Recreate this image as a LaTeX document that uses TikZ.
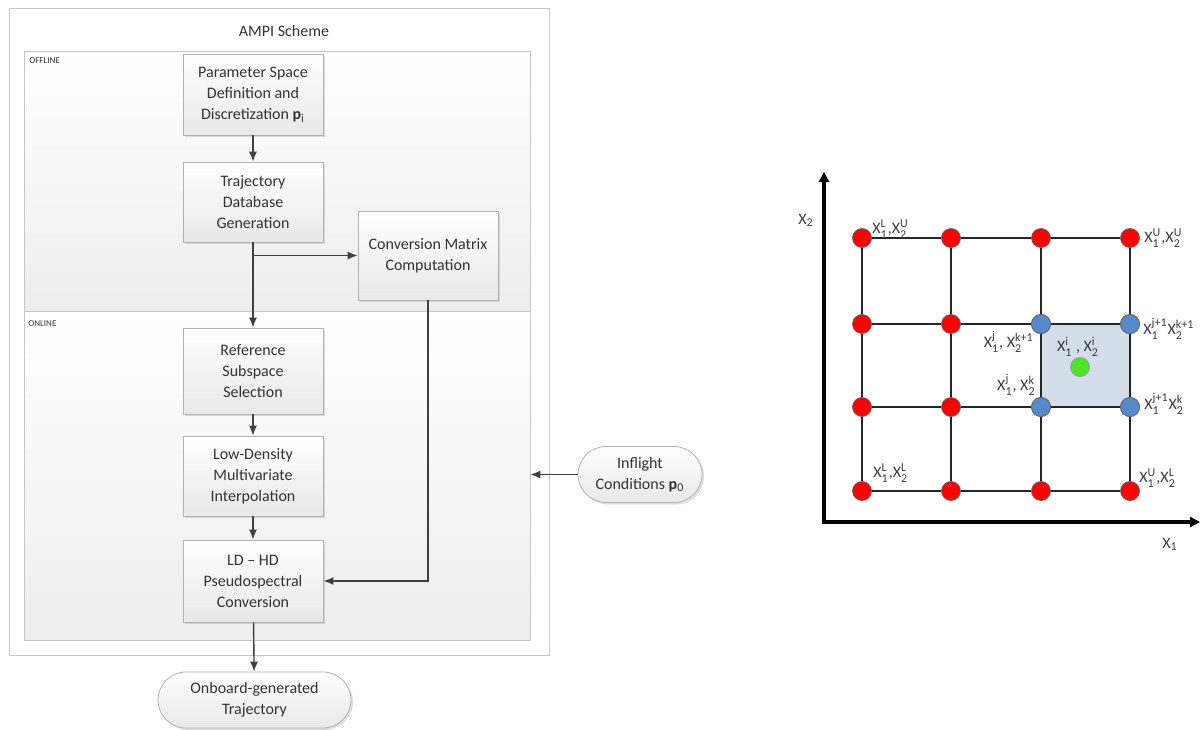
\documentclass[tikz,border=0pt]{standalone}
\usepackage{amsmath}
\usepackage{fontspec}
\setmainfont{Carlito}
\usetikzlibrary{arrows.meta,shadows}

\definecolor{dotred}{RGB}{255,0,0}
\definecolor{dotblue}{RGB}{85,138,205}
\definecolor{dotgreen}{RGB}{80,230,40}
\definecolor{cellfill}{RGB}{212,222,234}
\definecolor{labgray}{RGB}{60,60,60}

\newcommand{\xpt}[2]{X$_{\text{#1}}^{\text{#2}}$}

\begin{document}
\begin{tikzpicture}[x=0.5pt,y=-0.5pt,
  procbox/.style={draw=gray!60, rectangle, align=center, font=\fontsize{8}{10.5}\selectfont, text=black!80, minimum width=70pt, top color=white, bottom color=gray!18, drop shadow={shadow xshift=1pt, shadow yshift=-1pt, opacity=0.25}, inner sep=2pt},
  termbox/.style={draw=gray!60, rectangle, rounded corners=14pt, align=center, font=\fontsize{8}{10.5}\selectfont, text=black!80, minimum height=28pt, top color=white, bottom color=gray!18, drop shadow={shadow xshift=1pt, shadow yshift=-1pt, opacity=0.25}},
  panel/.style={draw=gray!45, rectangle, top color=white, bottom color=gray!14, drop shadow={shadow xshift=0.7pt, shadow yshift=-0.7pt, opacity=0.2}},
  tag/.style={font=\fontsize{4.5}{5}\selectfont, text=black!80, inner sep=0pt, anchor=west},
  arrow/.style={-{Latex[length=5pt,width=4pt]}, draw=black!75, line width=0.7pt},
  axis/.style={-{Triangle[length=5pt,width=5pt]}, line width=2pt},
  gridline/.style={draw=black!85, line width=1pt},
  dot/.style={circle, draw=black!60, line width=0.4pt, minimum size=9.5pt, inner sep=0pt},
  ptlabel/.style={font=\fontsize{8}{9}\selectfont, text=labgray, inner sep=0pt}
]
\useasboundingbox (0,0) rectangle (1200,729);

% left: AMPI scheme
\node[draw=gray!45, fill=white, rectangle, minimum width=270pt, minimum height=323.5pt, drop shadow={shadow xshift=0.7pt, shadow yshift=-0.7pt, opacity=0.2}] (ampi) at (279,331.5) {};
\node[font=\fontsize{8}{10}\selectfont, text=black!80] (ampititle) at (284,31) {AMPI Scheme};

\node[panel, minimum width=253pt, minimum height=130pt] (offline) at (277,181) {};
\node[panel, minimum width=253pt, minimum height=164.5pt] (online) at (277,475.5) {};
\node[tag] (offlinetag) at (29,61) {OFFLINE};
\node[tag] (onlinetag) at (28,324) {ONLINE};

\node[procbox, minimum height=40.5pt] (param) at (253,94.5) {Parameter Space\\Definition and\\Discretization \textbf{p}\textsubscript{i}};
\node[procbox, minimum height=40pt] (traj) at (253,202) {Trajectory\\Database\\Generation};
\node[procbox, minimum height=44.5pt] (conv) at (428,255.5) {Conversion Matrix\\Computation};
\node[procbox, minimum height=43pt] (refsel) at (253,371) {Reference\\Subspace\\Selection};
\node[procbox, minimum height=40pt] (lowden) at (253,476) {Low-Density\\Multivariate\\Interpolation};
\node[procbox, minimum height=41pt] (ldhd) at (253,581) {LD -- HD\\Pseudospectral\\Conversion};

\node[termbox, minimum width=62pt] (inflight) at (640,474.5) {Inflight\\Conditions \textbf{p}\textsubscript{0}};
\node[termbox, minimum width=96.5pt] (onboard) at (254.5,700) {Onboard-generated\\Trajectory};

\draw[arrow] (param) -- (traj);
\draw[arrow] (traj) -- (refsel);
\coordinate (split) at (traj.south |- conv.west);
\draw[arrow] (split) -- (conv.west);
\draw[arrow] (refsel) -- (lowden);
\draw[arrow] (lowden) -- (ldhd);
\draw[arrow] (conv.south) |- (ldhd.east);
\draw[arrow] (inflight.west) -- (inflight.west -| online.east);
\draw[arrow] (ldhd) -- (onboard);

% right: interpolation grid
\fill[cellfill] (1041,324) rectangle (1130,407);

\coordinate (origin) at (824,522);
\coordinate (ytip) at (824,172);
\coordinate (xtip) at (1200,522);
\draw[axis] (origin) -- (ytip);
\draw[axis] ([xshift=-1pt]origin) -- (xtip);

\foreach \xx [count=\i] in {862,951,1041,1130} {
  \foreach \yy [count=\j] in {238,324,407,491} {
    \node[dot, fill=dotred] (g-\i-\j) at (\xx,\yy) {};
  }
}
\foreach \i/\j in {3/2,4/2,3/3,4/3} {
  \node[dot, fill=dotblue] at (g-\i-\j) {};
}
\node[dot, fill=dotgreen, draw=black!40] (target) at (1080,367) {};

\foreach \i in {1,...,4} {
  \foreach \j [evaluate=\j as \k using int(\j+1)] in {1,2,3} {
    \draw[gridline] (g-\i-\j) -- (g-\i-\k);
    \draw[gridline] (g-\j-\i) -- (g-\k-\i);
  }
}

\node[ptlabel] (x2lab) at (806,220) {X\textsubscript{2}};
\node[ptlabel] (x1lab) at (1170,544) {X\textsubscript{1}};

\node[ptlabel, anchor=west] (lab-tl) at (872,229) {\xpt{1}{L},\xpt{2}{U}};
\node[ptlabel, anchor=west] (lab-tr) at (1144,238) {\xpt{1}{U},\xpt{2}{U}};
\node[ptlabel, anchor=east] (lab-jk1) at (1034,342) {\xpt{1}{j}, \xpt{2}{k+1}};
\node[ptlabel, anchor=west] (lab-j1k1) at (1143,329) {\xpt{1}{j+1}\xpt{2}{k+1}};
\node[ptlabel] (lab-i) at (1078,347) {\xpt{1}{i} , \xpt{2}{i}};
\node[ptlabel, anchor=east] (lab-jk) at (1036,385) {\xpt{1}{j}, \xpt{2}{k}};
\node[ptlabel, anchor=west] (lab-j1k) at (1144,404) {\xpt{1}{j+1}\xpt{2}{k}};
\node[ptlabel, anchor=west] (lab-bl) at (873,473) {\xpt{1}{L},\xpt{2}{L}};
\node[ptlabel, anchor=west] (lab-br) at (1139,478) {\xpt{1}{U},\xpt{2}{L}};
\end{tikzpicture}
\end{document}
